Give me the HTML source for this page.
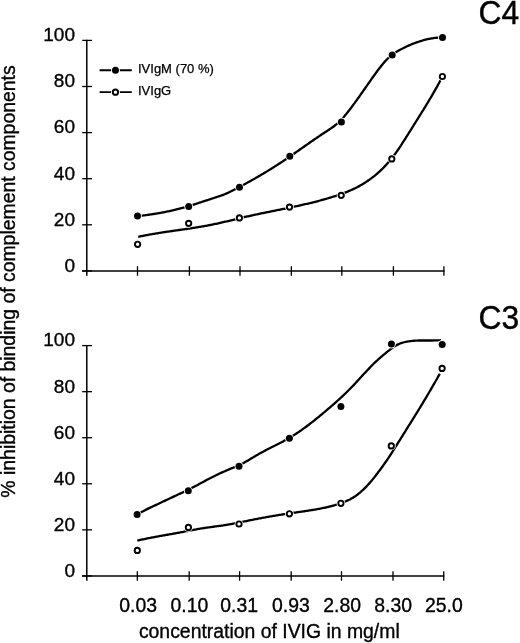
<!DOCTYPE html>
<html><head><meta charset="utf-8"><style>
html,body{margin:0;padding:0;background:#fff;}
svg{display:block;will-change:transform;}
.t{font-family:"Liberation Sans",sans-serif;font-size:19.4px;fill:#000;stroke:#000;stroke-width:0.35px;}
.l{font-family:"Liberation Sans",sans-serif;font-size:13px;fill:#000;stroke:#000;stroke-width:0.25px;}
.c{font-family:"Liberation Sans",sans-serif;font-size:33.5px;fill:#000;stroke:#000;stroke-width:0.4px;}
</style></head><body>
<svg width="520" height="643" viewBox="0 0 520 643">
<line x1="86.8" y1="39.80" x2="86.8" y2="275.80" stroke="#000" stroke-width="1.5"/>
<line x1="82" y1="270.9" x2="444.50" y2="270.9" stroke="#000" stroke-width="1.5"/>
<line x1="82.2" y1="40.40" x2="92" y2="40.40" stroke="#000" stroke-width="1.3"/>
<text x="75.0" y="41.25" text-anchor="end" class="t" style="font-size:19px">100</text>
<line x1="82.2" y1="86.50" x2="92" y2="86.50" stroke="#000" stroke-width="1.3"/>
<text x="75.0" y="87.35" text-anchor="end" class="t" style="font-size:19px">80</text>
<line x1="82.2" y1="132.60" x2="92" y2="132.60" stroke="#000" stroke-width="1.3"/>
<text x="75.0" y="133.45" text-anchor="end" class="t" style="font-size:19px">60</text>
<line x1="82.2" y1="178.70" x2="92" y2="178.70" stroke="#000" stroke-width="1.3"/>
<text x="75.0" y="179.55" text-anchor="end" class="t" style="font-size:19px">40</text>
<line x1="82.2" y1="224.80" x2="92" y2="224.80" stroke="#000" stroke-width="1.3"/>
<text x="75.0" y="225.65" text-anchor="end" class="t" style="font-size:19px">20</text>
<line x1="82.2" y1="270.90" x2="92" y2="270.90" stroke="#000" stroke-width="1.3"/>
<text x="75.0" y="271.75" text-anchor="end" class="t" style="font-size:19px">0</text>
<line x1="137.5" y1="266.20" x2="137.5" y2="275.70" stroke="#000" stroke-width="1.3"/>
<line x1="189.4" y1="266.20" x2="189.4" y2="275.70" stroke="#000" stroke-width="1.3"/>
<line x1="240.0" y1="266.20" x2="240.0" y2="275.70" stroke="#000" stroke-width="1.3"/>
<line x1="291.35" y1="266.20" x2="291.35" y2="275.70" stroke="#000" stroke-width="1.3"/>
<line x1="341.8" y1="266.20" x2="341.8" y2="275.70" stroke="#000" stroke-width="1.3"/>
<line x1="393.4" y1="266.20" x2="393.4" y2="275.70" stroke="#000" stroke-width="1.3"/>
<line x1="443.9" y1="266.20" x2="443.9" y2="275.70" stroke="#000" stroke-width="1.3"/>
<path d="M137.60,216.10 L138.60,215.99 L139.60,215.88 L140.60,215.77 L141.60,215.66 L142.60,215.54 L143.60,215.41 L144.60,215.28 L145.60,215.15 L146.60,215.02 L147.60,214.88 L148.60,214.74 L149.60,214.60 L150.60,214.46 L151.60,214.31 L152.60,214.16 L153.60,214.01 L154.60,213.85 L155.60,213.70 L156.60,213.54 L157.60,213.37 L158.60,213.20 L159.60,213.03 L160.60,212.85 L161.60,212.67 L162.60,212.48 L163.60,212.29 L164.60,212.09 L165.60,211.89 L166.60,211.69 L167.60,211.48 L168.60,211.27 L169.60,211.06 L170.60,210.84 L171.60,210.62 L172.60,210.39 L173.60,210.16 L174.60,209.92 L175.60,209.68 L176.60,209.43 L177.60,209.19 L178.60,208.93 L179.60,208.68 L180.60,208.42 L181.60,208.16 L182.60,207.89 L183.60,207.62 L184.60,207.34 L185.60,207.05 L186.60,206.77 L187.60,206.47 L188.60,206.18 L189.60,205.88 L190.60,205.57 L191.60,205.26 L192.60,204.95 L193.60,204.63 L194.60,204.31 L195.60,203.99 L196.60,203.67 L197.60,203.34 L198.60,203.01 L199.60,202.68 L200.60,202.34 L201.60,202.01 L202.60,201.69 L203.60,201.36 L204.60,201.03 L205.60,200.71 L206.60,200.38 L207.60,200.05 L208.60,199.73 L209.60,199.40 L210.60,199.07 L211.60,198.74 L212.60,198.40 L213.60,198.07 L214.60,197.74 L215.60,197.41 L216.60,197.09 L217.60,196.76 L218.60,196.43 L219.60,196.10 L220.60,195.76 L221.60,195.41 L222.60,195.05 L223.60,194.67 L224.60,194.28 L225.60,193.86 L226.60,193.42 L227.60,192.96 L228.60,192.48 L229.60,191.99 L230.60,191.49 L231.60,190.99 L232.60,190.48 L233.60,189.97 L234.60,189.47 L235.60,188.96 L236.60,188.43 L237.60,187.91 L238.60,187.38 L239.60,186.85 L240.60,186.32 L241.60,185.79 L242.60,185.26 L243.60,184.72 L244.60,184.18 L245.60,183.64 L246.60,183.09 L247.60,182.54 L248.60,181.99 L249.60,181.44 L250.60,180.89 L251.60,180.33 L252.60,179.77 L253.60,179.21 L254.60,178.65 L255.60,178.08 L256.60,177.51 L257.60,176.93 L258.60,176.35 L259.60,175.77 L260.60,175.19 L261.60,174.60 L262.60,174.01 L263.60,173.41 L264.60,172.82 L265.60,172.22 L266.60,171.61 L267.60,171.01 L268.60,170.39 L269.60,169.78 L270.60,169.16 L271.60,168.54 L272.60,167.91 L273.60,167.28 L274.60,166.65 L275.60,166.01 L276.60,165.37 L277.60,164.72 L278.60,164.08 L279.60,163.43 L280.60,162.77 L281.60,162.11 L282.60,161.45 L283.60,160.78 L284.60,160.10 L285.60,159.43 L286.60,158.75 L287.60,158.07 L288.60,157.39 L289.60,156.70 L290.60,156.02 L291.60,155.33 L292.60,154.64 L293.60,153.94 L294.60,153.25 L295.60,152.55 L296.60,151.85 L297.60,151.16 L298.60,150.46 L299.60,149.76 L300.60,149.06 L301.60,148.36 L302.60,147.65 L303.60,146.95 L304.60,146.25 L305.60,145.55 L306.60,144.85 L307.60,144.15 L308.60,143.46 L309.60,142.76 L310.60,142.07 L311.60,141.38 L312.60,140.69 L313.60,140.00 L314.60,139.32 L315.60,138.63 L316.60,137.95 L317.60,137.27 L318.60,136.59 L319.60,135.91 L320.60,135.24 L321.60,134.57 L322.60,133.90 L323.60,133.24 L324.60,132.58 L325.60,131.92 L326.60,131.26 L327.60,130.61 L328.60,129.95 L329.60,129.29 L330.60,128.61 L331.60,127.92 L332.60,127.21 L333.60,126.48 L334.60,125.72 L335.60,124.93 L336.60,124.11 L337.60,123.25 L338.60,122.36 L339.60,121.42 L340.60,120.44 L341.60,119.41 L342.60,118.33 L343.60,117.20 L344.60,116.05 L345.60,114.84 L346.60,113.60 L347.60,112.33 L348.60,111.06 L349.60,109.76 L350.60,108.45 L351.60,107.12 L352.60,105.78 L353.60,104.43 L354.60,103.07 L355.60,101.69 L356.60,100.31 L357.60,98.92 L358.60,97.52 L359.60,96.11 L360.60,94.70 L361.60,93.27 L362.60,91.84 L363.60,90.41 L364.60,88.97 L365.60,87.53 L366.60,86.10 L367.60,84.67 L368.60,83.24 L369.60,81.80 L370.60,80.37 L371.60,78.94 L372.60,77.51 L373.60,76.11 L374.60,74.72 L375.60,73.35 L376.60,71.99 L377.60,70.63 L378.60,69.30 L379.60,67.99 L380.60,66.71 L381.60,65.46 L382.60,64.24 L383.60,63.04 L384.60,61.87 L385.60,60.76 L386.60,59.72 L387.60,58.73 L388.60,57.77 L389.60,56.85 L390.60,55.99 L391.60,55.18 L392.60,54.44 L393.60,53.74 L394.60,53.06 L395.60,52.41 L396.60,51.78 L397.60,51.18 L398.60,50.60 L399.60,50.03 L400.60,49.49 L401.60,48.96 L402.60,48.44 L403.60,47.94 L404.60,47.44 L405.60,46.96 L406.60,46.49 L407.60,46.03 L408.60,45.58 L409.60,45.14 L410.60,44.71 L411.60,44.30 L412.60,43.90 L413.60,43.51 L414.60,43.13 L415.60,42.77 L416.60,42.43 L417.60,42.09 L418.60,41.75 L419.60,41.42 L420.60,41.10 L421.60,40.79 L422.60,40.49 L423.60,40.20 L424.60,39.92 L425.60,39.66 L426.60,39.42 L427.60,39.20 L428.60,38.99 L429.60,38.80 L430.60,38.62 L431.60,38.44 L432.60,38.27 L433.60,38.11 L434.60,37.97 L435.60,37.85 L436.60,37.75 L437.60,37.67 L438.60,37.61 L439.60,37.55 L440.60,37.50 L441.60,37.47 L442.50,37.45" fill="none" stroke="#000" stroke-width="2.3" stroke-linejoin="round"/>
<path d="M138.20,236.79 L139.20,236.59 L140.20,236.39 L141.20,236.19 L142.20,236.00 L143.20,235.80 L144.20,235.61 L145.20,235.41 L146.20,235.22 L147.20,235.03 L148.20,234.85 L149.20,234.66 L150.20,234.48 L151.20,234.30 L152.20,234.12 L153.20,233.94 L154.20,233.77 L155.20,233.60 L156.20,233.43 L157.20,233.26 L158.20,233.09 L159.20,232.93 L160.20,232.77 L161.20,232.61 L162.20,232.46 L163.20,232.31 L164.20,232.15 L165.20,232.01 L166.20,231.86 L167.20,231.71 L168.20,231.57 L169.20,231.42 L170.20,231.28 L171.20,231.14 L172.20,231.00 L173.20,230.86 L174.20,230.71 L175.20,230.57 L176.20,230.43 L177.20,230.29 L178.20,230.15 L179.20,230.00 L180.20,229.86 L181.20,229.71 L182.20,229.57 L183.20,229.42 L184.20,229.28 L185.20,229.14 L186.20,228.99 L187.20,228.85 L188.20,228.70 L189.20,228.55 L190.20,228.40 L191.20,228.25 L192.20,228.10 L193.20,227.94 L194.20,227.79 L195.20,227.63 L196.20,227.47 L197.20,227.31 L198.20,227.15 L199.20,226.98 L200.20,226.82 L201.20,226.65 L202.20,226.48 L203.20,226.30 L204.20,226.12 L205.20,225.94 L206.20,225.76 L207.20,225.57 L208.20,225.39 L209.20,225.20 L210.20,225.00 L211.20,224.81 L212.20,224.61 L213.20,224.40 L214.20,224.20 L215.20,223.99 L216.20,223.77 L217.20,223.55 L218.20,223.33 L219.20,223.11 L220.20,222.88 L221.20,222.65 L222.20,222.42 L223.20,222.19 L224.20,221.96 L225.20,221.73 L226.20,221.50 L227.20,221.26 L228.20,221.02 L229.20,220.78 L230.20,220.54 L231.20,220.29 L232.20,220.05 L233.20,219.81 L234.20,219.57 L235.20,219.33 L236.20,219.08 L237.20,218.84 L238.20,218.60 L239.20,218.36 L240.20,218.12 L241.20,217.88 L242.20,217.65 L243.20,217.41 L244.20,217.18 L245.20,216.94 L246.20,216.72 L247.20,216.49 L248.20,216.26 L249.20,216.04 L250.20,215.82 L251.20,215.59 L252.20,215.37 L253.20,215.15 L254.20,214.94 L255.20,214.72 L256.20,214.50 L257.20,214.29 L258.20,214.08 L259.20,213.87 L260.20,213.66 L261.20,213.45 L262.20,213.24 L263.20,213.04 L264.20,212.83 L265.20,212.63 L266.20,212.42 L267.20,212.22 L268.20,212.01 L269.20,211.81 L270.20,211.60 L271.20,211.40 L272.20,211.20 L273.20,211.00 L274.20,210.80 L275.20,210.60 L276.20,210.39 L277.20,210.19 L278.20,209.99 L279.20,209.79 L280.20,209.58 L281.20,209.38 L282.20,209.18 L283.20,208.97 L284.20,208.77 L285.20,208.57 L286.20,208.36 L287.20,208.15 L288.20,207.95 L289.20,207.74 L290.20,207.53 L291.20,207.32 L292.20,207.11 L293.20,206.89 L294.20,206.68 L295.20,206.47 L296.20,206.25 L297.20,206.03 L298.20,205.81 L299.20,205.59 L300.20,205.37 L301.20,205.15 L302.20,204.92 L303.20,204.69 L304.20,204.46 L305.20,204.23 L306.20,204.00 L307.20,203.77 L308.20,203.53 L309.20,203.29 L310.20,203.05 L311.20,202.80 L312.20,202.55 L313.20,202.30 L314.20,202.05 L315.20,201.80 L316.20,201.54 L317.20,201.28 L318.20,201.02 L319.20,200.75 L320.20,200.49 L321.20,200.22 L322.20,199.94 L323.20,199.66 L324.20,199.38 L325.20,199.10 L326.20,198.81 L327.20,198.52 L328.20,198.23 L329.20,197.93 L330.20,197.63 L331.20,197.32 L332.20,197.02 L333.20,196.70 L334.20,196.39 L335.20,196.07 L336.20,195.74 L337.20,195.41 L338.20,195.08 L339.20,194.74 L340.20,194.39 L341.20,194.03 L342.20,193.67 L343.20,193.31 L344.20,192.93 L345.20,192.55 L346.20,192.16 L347.20,191.76 L348.20,191.34 L349.20,190.92 L350.20,190.49 L351.20,190.04 L352.20,189.59 L353.20,189.12 L354.20,188.65 L355.20,188.16 L356.20,187.67 L357.20,187.16 L358.20,186.64 L359.20,186.11 L360.20,185.56 L361.20,184.99 L362.20,184.40 L363.20,183.80 L364.20,183.18 L365.20,182.55 L366.20,181.90 L367.20,181.24 L368.20,180.56 L369.20,179.86 L370.20,179.15 L371.20,178.42 L372.20,177.67 L373.20,176.89 L374.20,176.10 L375.20,175.28 L376.20,174.44 L377.20,173.58 L378.20,172.70 L379.20,171.80 L380.20,170.88 L381.20,169.94 L382.20,168.98 L383.20,167.98 L384.20,166.94 L385.20,165.89 L386.20,164.81 L387.20,163.70 L388.20,162.57 L389.20,161.40 L390.20,160.21 L391.20,158.98 L392.20,157.73 L393.20,156.44 L394.20,155.12 L395.20,153.77 L396.20,152.39 L397.20,150.97 L398.20,149.53 L399.20,148.05 L400.20,146.55 L401.20,145.03 L402.20,143.49 L403.20,141.93 L404.20,140.36 L405.20,138.79 L406.20,137.21 L407.20,135.63 L408.20,134.05 L409.20,132.46 L410.20,130.87 L411.20,129.27 L412.20,127.67 L413.20,126.06 L414.20,124.46 L415.20,122.86 L416.20,121.26 L417.20,119.66 L418.20,118.06 L419.20,116.45 L420.20,114.84 L421.20,113.24 L422.20,111.63 L423.20,110.02 L424.20,108.40 L425.20,106.78 L426.20,105.14 L427.20,103.50 L428.20,101.85 L429.20,100.19 L430.20,98.52 L431.20,96.84 L432.20,95.13 L433.20,93.40 L434.20,91.66 L435.20,89.90 L436.20,88.13 L437.20,86.33 L438.20,84.52 L439.20,82.69 L440.20,80.82 L440.50,80.25" fill="none" stroke="#000" stroke-width="2.3" stroke-linejoin="round"/>
<circle cx="137.5" cy="216.1" r="4.4" fill="#fff"/>
<circle cx="137.5" cy="216.1" r="3.5" fill="#000"/>
<circle cx="188.7" cy="206.45" r="4.4" fill="#fff"/>
<circle cx="188.7" cy="206.45" r="3.5" fill="#000"/>
<circle cx="239.45" cy="187.2" r="4.4" fill="#fff"/>
<circle cx="239.45" cy="187.2" r="3.5" fill="#000"/>
<circle cx="289.8" cy="156.3" r="4.4" fill="#fff"/>
<circle cx="289.8" cy="156.3" r="3.5" fill="#000"/>
<circle cx="341.4" cy="121.9" r="4.4" fill="#fff"/>
<circle cx="341.4" cy="121.9" r="3.5" fill="#000"/>
<circle cx="392.2" cy="55.0" r="4.4" fill="#fff"/>
<circle cx="392.2" cy="55.0" r="3.5" fill="#000"/>
<circle cx="442.5" cy="37.4" r="4.4" fill="#fff"/>
<circle cx="442.5" cy="37.4" r="3.5" fill="#000"/>
<circle cx="137.6" cy="244.3" r="4.3999999999999995" fill="#fff"/>
<circle cx="137.6" cy="244.3" r="2.65" fill="#fff" stroke="#000" stroke-width="1.9"/>
<circle cx="188.65" cy="223.35" r="4.3999999999999995" fill="#fff"/>
<circle cx="188.65" cy="223.35" r="2.65" fill="#fff" stroke="#000" stroke-width="1.9"/>
<circle cx="239.4" cy="217.9" r="4.3999999999999995" fill="#fff"/>
<circle cx="239.4" cy="217.9" r="2.65" fill="#fff" stroke="#000" stroke-width="1.9"/>
<circle cx="289.5" cy="207.1" r="4.3999999999999995" fill="#fff"/>
<circle cx="289.5" cy="207.1" r="2.65" fill="#fff" stroke="#000" stroke-width="1.9"/>
<circle cx="341.2" cy="195.35" r="4.3999999999999995" fill="#fff"/>
<circle cx="341.2" cy="195.35" r="2.65" fill="#fff" stroke="#000" stroke-width="1.9"/>
<circle cx="391.8" cy="158.9" r="4.3999999999999995" fill="#fff"/>
<circle cx="391.8" cy="158.9" r="2.65" fill="#fff" stroke="#000" stroke-width="1.9"/>
<circle cx="442.4" cy="76.5" r="4.3999999999999995" fill="#fff"/>
<circle cx="442.4" cy="76.5" r="2.65" fill="#fff" stroke="#000" stroke-width="1.9"/>
<line x1="86.8" y1="345.00" x2="86.8" y2="580.80" stroke="#000" stroke-width="1.5"/>
<line x1="82" y1="575.9" x2="444.35" y2="575.9" stroke="#000" stroke-width="1.5"/>
<line x1="82.2" y1="345.60" x2="92" y2="345.60" stroke="#000" stroke-width="1.3"/>
<text x="75.0" y="346.45" text-anchor="end" class="t" style="font-size:19px">100</text>
<line x1="82.2" y1="391.66" x2="92" y2="391.66" stroke="#000" stroke-width="1.3"/>
<text x="75.0" y="392.51" text-anchor="end" class="t" style="font-size:19px">80</text>
<line x1="82.2" y1="437.72" x2="92" y2="437.72" stroke="#000" stroke-width="1.3"/>
<text x="75.0" y="438.57" text-anchor="end" class="t" style="font-size:19px">60</text>
<line x1="82.2" y1="483.78" x2="92" y2="483.78" stroke="#000" stroke-width="1.3"/>
<text x="75.0" y="484.63" text-anchor="end" class="t" style="font-size:19px">40</text>
<line x1="82.2" y1="529.84" x2="92" y2="529.84" stroke="#000" stroke-width="1.3"/>
<text x="75.0" y="530.69" text-anchor="end" class="t" style="font-size:19px">20</text>
<line x1="82.2" y1="575.90" x2="92" y2="575.90" stroke="#000" stroke-width="1.3"/>
<text x="75.0" y="576.75" text-anchor="end" class="t" style="font-size:19px">0</text>
<line x1="137.3" y1="571.20" x2="137.3" y2="580.70" stroke="#000" stroke-width="1.3"/>
<line x1="189.2" y1="571.20" x2="189.2" y2="580.70" stroke="#000" stroke-width="1.3"/>
<line x1="239.6" y1="571.20" x2="239.6" y2="580.70" stroke="#000" stroke-width="1.3"/>
<line x1="291.2" y1="571.20" x2="291.2" y2="580.70" stroke="#000" stroke-width="1.3"/>
<line x1="341.5" y1="571.20" x2="341.5" y2="580.70" stroke="#000" stroke-width="1.3"/>
<line x1="393.0" y1="571.20" x2="393.0" y2="580.70" stroke="#000" stroke-width="1.3"/>
<line x1="443.75" y1="571.20" x2="443.75" y2="580.70" stroke="#000" stroke-width="1.3"/>
<path d="M137.10,514.59 L138.10,514.01 L139.10,513.44 L140.10,512.87 L141.10,512.31 L142.10,511.76 L143.10,511.21 L144.10,510.68 L145.10,510.15 L146.10,509.63 L147.10,509.12 L148.10,508.63 L149.10,508.14 L150.10,507.66 L151.10,507.19 L152.10,506.73 L153.10,506.26 L154.10,505.80 L155.10,505.34 L156.10,504.88 L157.10,504.42 L158.10,503.95 L159.10,503.47 L160.10,503.00 L161.10,502.53 L162.10,502.05 L163.10,501.58 L164.10,501.11 L165.10,500.63 L166.10,500.16 L167.10,499.69 L168.10,499.22 L169.10,498.75 L170.10,498.28 L171.10,497.81 L172.10,497.34 L173.10,496.87 L174.10,496.41 L175.10,495.94 L176.10,495.47 L177.10,495.01 L178.10,494.54 L179.10,494.08 L180.10,493.61 L181.10,493.15 L182.10,492.69 L183.10,492.23 L184.10,491.78 L185.10,491.32 L186.10,490.86 L187.10,490.40 L188.10,489.92 L189.10,489.42 L190.10,488.91 L191.10,488.38 L192.10,487.85 L193.10,487.32 L194.10,486.78 L195.10,486.24 L196.10,485.71 L197.10,485.18 L198.10,484.64 L199.10,484.10 L200.10,483.56 L201.10,483.02 L202.10,482.48 L203.10,481.95 L204.10,481.41 L205.10,480.88 L206.10,480.35 L207.10,479.83 L208.10,479.31 L209.10,478.79 L210.10,478.28 L211.10,477.76 L212.10,477.25 L213.10,476.74 L214.10,476.24 L215.10,475.74 L216.10,475.24 L217.10,474.75 L218.10,474.27 L219.10,473.80 L220.10,473.33 L221.10,472.87 L222.10,472.42 L223.10,471.97 L224.10,471.52 L225.10,471.08 L226.10,470.64 L227.10,470.21 L228.10,469.78 L229.10,469.35 L230.10,468.92 L231.10,468.51 L232.10,468.10 L233.10,467.71 L234.10,467.33 L235.10,466.94 L236.10,466.54 L237.10,466.14 L238.10,465.71 L239.10,465.26 L240.10,464.78 L241.10,464.28 L242.10,463.76 L243.10,463.22 L244.10,462.66 L245.10,462.10 L246.10,461.54 L247.10,460.97 L248.10,460.40 L249.10,459.81 L250.10,459.21 L251.10,458.61 L252.10,457.99 L253.10,457.37 L254.10,456.76 L255.10,456.15 L256.10,455.56 L257.10,454.97 L258.10,454.41 L259.10,453.85 L260.10,453.30 L261.10,452.76 L262.10,452.22 L263.10,451.68 L264.10,451.15 L265.10,450.63 L266.10,450.10 L267.10,449.58 L268.10,449.06 L269.10,448.54 L270.10,448.03 L271.10,447.52 L272.10,447.02 L273.10,446.52 L274.10,446.02 L275.10,445.53 L276.10,445.03 L277.10,444.53 L278.10,444.02 L279.10,443.51 L280.10,442.99 L281.10,442.46 L282.10,441.93 L283.10,441.40 L284.10,440.86 L285.10,440.32 L286.10,439.77 L287.10,439.21 L288.10,438.64 L289.10,438.06 L290.10,437.47 L291.10,436.87 L292.10,436.26 L293.10,435.63 L294.10,435.00 L295.10,434.36 L296.10,433.71 L297.10,433.05 L298.10,432.38 L299.10,431.70 L300.10,431.02 L301.10,430.32 L302.10,429.61 L303.10,428.90 L304.10,428.18 L305.10,427.45 L306.10,426.71 L307.10,425.97 L308.10,425.22 L309.10,424.46 L310.10,423.69 L311.10,422.92 L312.10,422.14 L313.10,421.35 L314.10,420.56 L315.10,419.77 L316.10,418.96 L317.10,418.16 L318.10,417.35 L319.10,416.54 L320.10,415.72 L321.10,414.90 L322.10,414.07 L323.10,413.23 L324.10,412.39 L325.10,411.55 L326.10,410.70 L327.10,409.85 L328.10,408.99 L329.10,408.13 L330.10,407.27 L331.10,406.41 L332.10,405.54 L333.10,404.67 L334.10,403.80 L335.10,402.92 L336.10,402.04 L337.10,401.15 L338.10,400.26 L339.10,399.35 L340.10,398.44 L341.10,397.52 L342.10,396.58 L343.10,395.64 L344.10,394.69 L345.10,393.73 L346.10,392.76 L347.10,391.79 L348.10,390.80 L349.10,389.80 L350.10,388.80 L351.10,387.78 L352.10,386.75 L353.10,385.70 L354.10,384.64 L355.10,383.56 L356.10,382.47 L357.10,381.37 L358.10,380.27 L359.10,379.17 L360.10,378.07 L361.10,376.98 L362.10,375.89 L363.10,374.82 L364.10,373.76 L365.10,372.68 L366.10,371.61 L367.10,370.53 L368.10,369.46 L369.10,368.40 L370.10,367.35 L371.10,366.31 L372.10,365.28 L373.10,364.28 L374.10,363.30 L375.10,362.35 L376.10,361.41 L377.10,360.48 L378.10,359.56 L379.10,358.66 L380.10,357.77 L381.10,356.90 L382.10,356.04 L383.10,355.19 L384.10,354.36 L385.10,353.54 L386.10,352.74 L387.10,351.94 L388.10,351.14 L389.10,350.33 L390.10,349.54 L391.10,348.76 L392.10,348.01 L393.10,347.28 L394.10,346.60 L395.10,345.97 L396.10,345.39 L397.10,344.88 L398.10,344.39 L399.10,343.93 L400.10,343.51 L401.10,343.14 L402.10,342.81 L403.10,342.52 L404.10,342.25 L405.10,342.00 L406.10,341.78 L407.10,341.59 L408.10,341.44 L409.10,341.32 L410.10,341.19 L411.10,341.08 L412.10,340.96 L413.10,340.86 L414.10,340.77 L415.10,340.68 L416.10,340.61 L417.10,340.56 L418.10,340.52 L419.10,340.50 L420.10,340.50 L421.10,340.50 L422.10,340.50 L423.10,340.50 L424.10,340.50 L425.10,340.50 L426.10,340.50 L427.10,340.50 L428.10,340.50 L429.10,340.50 L430.10,340.50 L431.10,340.50 L432.10,340.49 L433.10,340.48 L434.10,340.47 L435.10,340.45 L436.10,340.42 L437.10,340.40 L438.10,340.37 L439.10,340.33 L440.10,340.30 L441.00,340.27" fill="none" stroke="#000" stroke-width="2.3" stroke-linejoin="round"/>
<path d="M137.30,540.61 L138.30,540.38 L139.30,540.16 L140.30,539.93 L141.30,539.71 L142.30,539.49 L143.30,539.27 L144.30,539.06 L145.30,538.85 L146.30,538.64 L147.30,538.44 L148.30,538.24 L149.30,538.04 L150.30,537.85 L151.30,537.66 L152.30,537.47 L153.30,537.28 L154.30,537.09 L155.30,536.90 L156.30,536.72 L157.30,536.53 L158.30,536.35 L159.30,536.17 L160.30,535.99 L161.30,535.81 L162.30,535.63 L163.30,535.46 L164.30,535.28 L165.30,535.10 L166.30,534.93 L167.30,534.75 L168.30,534.58 L169.30,534.40 L170.30,534.22 L171.30,534.04 L172.30,533.86 L173.30,533.68 L174.30,533.50 L175.30,533.32 L176.30,533.13 L177.30,532.95 L178.30,532.77 L179.30,532.58 L180.30,532.40 L181.30,532.21 L182.30,532.02 L183.30,531.83 L184.30,531.63 L185.30,531.43 L186.30,531.23 L187.30,531.04 L188.30,530.84 L189.30,530.64 L190.30,530.45 L191.30,530.25 L192.30,530.07 L193.30,529.88 L194.30,529.69 L195.30,529.51 L196.30,529.32 L197.30,529.14 L198.30,528.96 L199.30,528.79 L200.30,528.62 L201.30,528.46 L202.30,528.30 L203.30,528.15 L204.30,528.00 L205.30,527.86 L206.30,527.72 L207.30,527.58 L208.30,527.44 L209.30,527.30 L210.30,527.17 L211.30,527.03 L212.30,526.90 L213.30,526.76 L214.30,526.62 L215.30,526.48 L216.30,526.35 L217.30,526.21 L218.30,526.08 L219.30,525.94 L220.30,525.81 L221.30,525.67 L222.30,525.52 L223.30,525.38 L224.30,525.23 L225.30,525.07 L226.30,524.91 L227.30,524.74 L228.30,524.57 L229.30,524.39 L230.30,524.21 L231.30,524.03 L232.30,523.85 L233.30,523.66 L234.30,523.48 L235.30,523.29 L236.30,523.09 L237.30,522.89 L238.30,522.69 L239.30,522.49 L240.30,522.29 L241.30,522.09 L242.30,521.88 L243.30,521.67 L244.30,521.47 L245.30,521.26 L246.30,521.06 L247.30,520.85 L248.30,520.65 L249.30,520.44 L250.30,520.23 L251.30,520.03 L252.30,519.82 L253.30,519.62 L254.30,519.42 L255.30,519.22 L256.30,519.02 L257.30,518.83 L258.30,518.64 L259.30,518.44 L260.30,518.26 L261.30,518.07 L262.30,517.88 L263.30,517.70 L264.30,517.51 L265.30,517.33 L266.30,517.15 L267.30,516.98 L268.30,516.80 L269.30,516.63 L270.30,516.45 L271.30,516.28 L272.30,516.11 L273.30,515.95 L274.30,515.78 L275.30,515.62 L276.30,515.45 L277.30,515.29 L278.30,515.13 L279.30,514.97 L280.30,514.81 L281.30,514.65 L282.30,514.49 L283.30,514.34 L284.30,514.18 L285.30,514.03 L286.30,513.88 L287.30,513.73 L288.30,513.58 L289.30,513.43 L290.30,513.28 L291.30,513.13 L292.30,512.98 L293.30,512.83 L294.30,512.69 L295.30,512.54 L296.30,512.40 L297.30,512.25 L298.30,512.10 L299.30,511.96 L300.30,511.81 L301.30,511.67 L302.30,511.53 L303.30,511.38 L304.30,511.24 L305.30,511.09 L306.30,510.94 L307.30,510.79 L308.30,510.64 L309.30,510.48 L310.30,510.33 L311.30,510.17 L312.30,510.01 L313.30,509.85 L314.30,509.69 L315.30,509.52 L316.30,509.35 L317.30,509.17 L318.30,508.98 L319.30,508.79 L320.30,508.60 L321.30,508.40 L322.30,508.20 L323.30,507.99 L324.30,507.78 L325.30,507.56 L326.30,507.34 L327.30,507.11 L328.30,506.87 L329.30,506.62 L330.30,506.37 L331.30,506.11 L332.30,505.84 L333.30,505.56 L334.30,505.28 L335.30,504.98 L336.30,504.68 L337.30,504.36 L338.30,504.04 L339.30,503.71 L340.30,503.37 L341.30,503.03 L342.30,502.67 L343.30,502.29 L344.30,501.90 L345.30,501.49 L346.30,501.07 L347.30,500.62 L348.30,500.16 L349.30,499.67 L350.30,499.15 L351.30,498.60 L352.30,498.03 L353.30,497.43 L354.30,496.80 L355.30,496.16 L356.30,495.47 L357.30,494.74 L358.30,493.96 L359.30,493.15 L360.30,492.31 L361.30,491.43 L362.30,490.52 L363.30,489.58 L364.30,488.61 L365.30,487.61 L366.30,486.59 L367.30,485.54 L368.30,484.47 L369.30,483.38 L370.30,482.25 L371.30,481.09 L372.30,479.88 L373.30,478.64 L374.30,477.37 L375.30,476.08 L376.30,474.78 L377.30,473.46 L378.30,472.14 L379.30,470.81 L380.30,469.47 L381.30,468.11 L382.30,466.73 L383.30,465.34 L384.30,463.92 L385.30,462.50 L386.30,461.05 L387.30,459.60 L388.30,458.13 L389.30,456.64 L390.30,455.11 L391.30,453.56 L392.30,452.00 L393.30,450.43 L394.30,448.85 L395.30,447.26 L396.30,445.66 L397.30,444.05 L398.30,442.46 L399.30,440.86 L400.30,439.27 L401.30,437.67 L402.30,436.08 L403.30,434.48 L404.30,432.89 L405.30,431.29 L406.30,429.69 L407.30,428.09 L408.30,426.48 L409.30,424.87 L410.30,423.27 L411.30,421.66 L412.30,420.05 L413.30,418.44 L414.30,416.83 L415.30,415.22 L416.30,413.60 L417.30,411.98 L418.30,410.36 L419.30,408.73 L420.30,407.09 L421.30,405.45 L422.30,403.79 L423.30,402.13 L424.30,400.46 L425.30,398.79 L426.30,397.11 L427.30,395.42 L428.30,393.73 L429.30,392.03 L430.30,390.33 L431.30,388.62 L432.30,386.90 L433.30,385.17 L434.30,383.44 L435.30,381.71 L436.30,379.96 L437.30,378.21 L438.30,376.43 L439.30,374.64 L439.80,373.74" fill="none" stroke="#000" stroke-width="2.3" stroke-linejoin="round"/>
<circle cx="137.1" cy="514.6" r="4.4" fill="#fff"/>
<circle cx="137.1" cy="514.6" r="3.5" fill="#000"/>
<circle cx="188.3" cy="490.8" r="4.4" fill="#fff"/>
<circle cx="188.3" cy="490.8" r="3.5" fill="#000"/>
<circle cx="239" cy="466.3" r="4.4" fill="#fff"/>
<circle cx="239" cy="466.3" r="3.5" fill="#000"/>
<circle cx="289.4" cy="438.3" r="4.4" fill="#fff"/>
<circle cx="289.4" cy="438.3" r="3.5" fill="#000"/>
<circle cx="340.9" cy="406.5" r="4.4" fill="#fff"/>
<circle cx="340.9" cy="406.5" r="3.5" fill="#000"/>
<circle cx="391.4" cy="344.1" r="4.4" fill="#fff"/>
<circle cx="391.4" cy="344.1" r="3.5" fill="#000"/>
<circle cx="442.2" cy="344.4" r="4.4" fill="#fff"/>
<circle cx="442.2" cy="344.4" r="3.5" fill="#000"/>
<circle cx="137.3" cy="550.4" r="4.3999999999999995" fill="#fff"/>
<circle cx="137.3" cy="550.4" r="2.65" fill="#fff" stroke="#000" stroke-width="1.9"/>
<circle cx="188.4" cy="527.4" r="4.3999999999999995" fill="#fff"/>
<circle cx="188.4" cy="527.4" r="2.65" fill="#fff" stroke="#000" stroke-width="1.9"/>
<circle cx="239" cy="524" r="4.3999999999999995" fill="#fff"/>
<circle cx="239" cy="524" r="2.65" fill="#fff" stroke="#000" stroke-width="1.9"/>
<circle cx="289.4" cy="513.8" r="4.3999999999999995" fill="#fff"/>
<circle cx="289.4" cy="513.8" r="2.65" fill="#fff" stroke="#000" stroke-width="1.9"/>
<circle cx="340.9" cy="503.3" r="4.3999999999999995" fill="#fff"/>
<circle cx="340.9" cy="503.3" r="2.65" fill="#fff" stroke="#000" stroke-width="1.9"/>
<circle cx="391.3" cy="445.9" r="4.3999999999999995" fill="#fff"/>
<circle cx="391.3" cy="445.9" r="2.65" fill="#fff" stroke="#000" stroke-width="1.9"/>
<circle cx="442.1" cy="368.4" r="4.3999999999999995" fill="#fff"/>
<circle cx="442.1" cy="368.4" r="2.65" fill="#fff" stroke="#000" stroke-width="1.9"/>
<text transform="translate(519.2,24.0) scale(0.95,1)" text-anchor="end" class="c">C4</text>
<text transform="translate(519.2,329.0) scale(0.95,1)" text-anchor="end" class="c">C3</text>
<line x1="99.6" y1="70.2" x2="131.8" y2="70.2" stroke="#000" stroke-width="1.9"/>
<circle cx="115.45" cy="70.2" r="4.4" fill="#fff"/>
<circle cx="115.45" cy="70.2" r="3.5" fill="#000"/>
<line x1="99.6" y1="92.15" x2="131.8" y2="92.15" stroke="#000" stroke-width="1.9"/>
<circle cx="115.45" cy="92.15" r="4.3999999999999995" fill="#fff"/>
<circle cx="115.45" cy="92.15" r="2.65" fill="#fff" stroke="#000" stroke-width="1.9"/>
<text x="138" y="73.2" class="l">IVIgM (70 %)</text>
<text x="138" y="95.1" class="l">IVIgG</text>
<text x="138.10" y="611.5" text-anchor="middle" class="t">0.03</text>
<text x="189.40" y="611.5" text-anchor="middle" class="t">0.10</text>
<text x="239.10" y="611.5" text-anchor="middle" class="t">0.31</text>
<text x="290.90" y="611.5" text-anchor="middle" class="t">0.93</text>
<text x="342.20" y="611.5" text-anchor="middle" class="t">2.80</text>
<text x="393.20" y="611.5" text-anchor="middle" class="t">8.30</text>
<text x="443.80" y="611.5" text-anchor="middle" class="t">25.0</text>
<text x="269.3" y="637.7" text-anchor="middle" class="t">concentration of IVIG in mg/ml</text>
<text transform="translate(15.3,281.5) rotate(-90)" x="0" y="0" text-anchor="middle" class="t">% inhibition of binding of complement components</text>
</svg>
</body></html>
